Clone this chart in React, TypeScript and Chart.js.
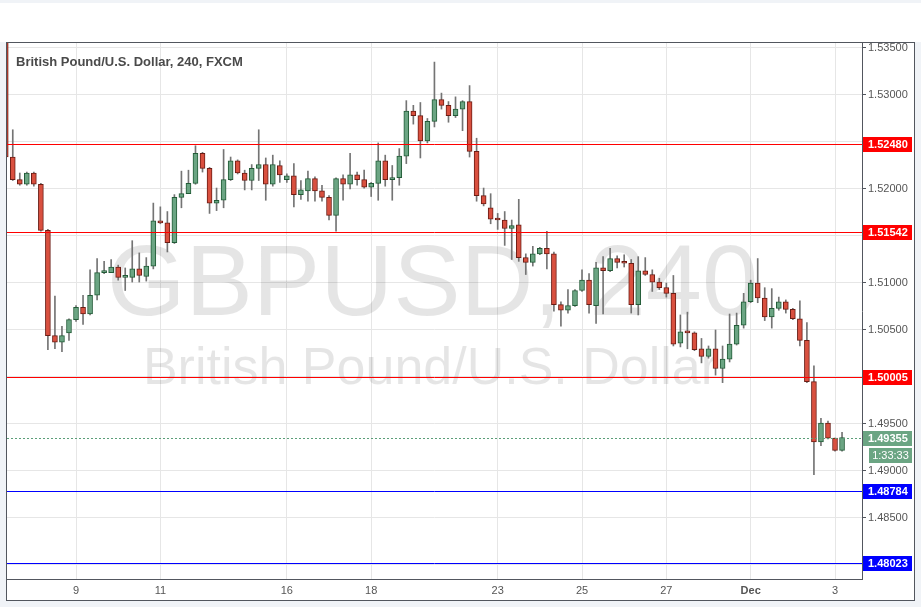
import React, { useEffect, useRef } from "react";
import { Chart, registerables } from "chart.js";

Chart.register(...registerables);

// ---- data (4h candles, GBP/USD, FXCM) ----
const candleOpen = [
  1.5370, 1.5234, 1.5210, 1.5205, 1.5217, 1.5205, 1.5156, 1.5044, 1.5037, 1.5047,
  1.5061, 1.5074, 1.5067, 1.5087, 1.5111, 1.5111, 1.5117, 1.5106, 1.5106, 1.5115,
  1.5107, 1.5118, 1.5166, 1.5164, 1.5143, 1.5191, 1.5195, 1.5206, 1.5238, 1.5222,
  1.5185, 1.5188, 1.5210, 1.5230, 1.5217, 1.5209, 1.5222, 1.5226, 1.5205, 1.5225,
  1.5210, 1.5214, 1.5194, 1.5198, 1.5211, 1.5198, 1.5191, 1.5172, 1.5211, 1.5205,
  1.5215, 1.5210, 1.5202, 1.5206, 1.5230, 1.5210, 1.5212, 1.5235, 1.5283, 1.5278,
  1.5251, 1.5272, 1.5295, 1.5289, 1.5278, 1.5285, 1.5293, 1.5240, 1.5193, 1.5180,
  1.5168, 1.5167, 1.5158, 1.5162, 1.5127, 1.5122, 1.5131, 1.5137, 1.5131, 1.5077,
  1.5071, 1.5076, 1.5092, 1.5103, 1.5076, 1.5116, 1.5113, 1.5126, 1.5122, 1.5121,
  1.5077, 1.5113, 1.5109, 1.5101, 1.5095, 1.5089, 1.5036, 1.5049, 1.5047, 1.5030,
  1.5022, 1.5030, 1.5009, 1.5019, 1.5035, 1.5055, 1.5080, 1.5100, 1.5084, 1.5064,
  1.5073, 1.5080, 1.5072, 1.5062, 1.5039, 1.4995, 1.4931, 1.4951, 1.4935, 1.4922,
];
const candleHigh = [
  1.5378, 1.5263, 1.5217, 1.5218, 1.5218, 1.5206, 1.5157, 1.5086, 1.5054, 1.5062,
  1.5076, 1.5087, 1.5114, 1.5126, 1.5123, 1.5125, 1.5119, 1.5116, 1.5145, 1.5132,
  1.5127, 1.5185, 1.5181, 1.5176, 1.5194, 1.5219, 1.5220, 1.5246, 1.5239, 1.5223,
  1.5201, 1.5242, 1.5234, 1.5231, 1.5220, 1.5226, 1.5263, 1.5233, 1.5236, 1.5230,
  1.5216, 1.5227, 1.5209, 1.5219, 1.5213, 1.5204, 1.5193, 1.5212, 1.5215, 1.5238,
  1.5218, 1.5220, 1.5207, 1.5249, 1.5236, 1.5225, 1.5243, 1.5294, 1.5289, 1.5292,
  1.5275, 1.5335, 1.5302, 1.5293, 1.5298, 1.5294, 1.5310, 1.5254, 1.5201, 1.5195,
  1.5174, 1.5176, 1.5167, 1.5189, 1.5131, 1.5139, 1.5138, 1.5155, 1.5133, 1.5080,
  1.5093, 1.5093, 1.5114, 1.5110, 1.5122, 1.5128, 1.5137, 1.5129, 1.5130, 1.5125,
  1.5128, 1.5127, 1.5114, 1.5105, 1.5100, 1.5108, 1.5066, 1.5069, 1.5048, 1.5041,
  1.5033, 1.5050, 1.5033, 1.5067, 1.5068, 1.5089, 1.5103, 1.5126, 1.5095, 1.5094,
  1.5085, 1.5082, 1.5073, 1.5081, 1.5058, 1.5012, 1.4956, 1.4953, 1.4935, 1.4941,
];
const candleLow = [
  1.5228, 1.5209, 1.5204, 1.5204, 1.5203, 1.5155, 1.5029, 1.5030, 1.5027, 1.5039,
  1.5059, 1.5056, 1.5066, 1.5082, 1.5110, 1.5111, 1.5103, 1.5092, 1.5101, 1.5101,
  1.5102, 1.5115, 1.5163, 1.5133, 1.5142, 1.5180, 1.5195, 1.5205, 1.5218, 1.5174,
  1.5177, 1.5180, 1.5209, 1.5216, 1.5199, 1.5199, 1.5209, 1.5188, 1.5203, 1.5207,
  1.5207, 1.5181, 1.5189, 1.5187, 1.5187, 1.5187, 1.5167, 1.5155, 1.5188, 1.5200,
  1.5204, 1.5201, 1.5192, 1.5188, 1.5203, 1.5188, 1.5204, 1.5227, 1.5269, 1.5233,
  1.5249, 1.5266, 1.5285, 1.5271, 1.5276, 1.5262, 1.5234, 1.5187, 1.5182, 1.5163,
  1.5157, 1.5140, 1.5125, 1.5123, 1.5109, 1.5118, 1.5130, 1.5115, 1.5070, 1.5054,
  1.5068, 1.5075, 1.5091, 1.5068, 1.5057, 1.5067, 1.5112, 1.5116, 1.5117, 1.5068,
  1.5066, 1.5108, 1.5091, 1.5093, 1.5085, 1.5033, 1.5032, 1.5030, 1.5028, 1.5015,
  1.5020, 1.5002, 1.4994, 1.5016, 1.5034, 1.5052, 1.5079, 1.5079, 1.5060, 1.5052,
  1.5071, 1.5068, 1.5061, 1.5033, 1.4994, 1.4896, 1.4927, 1.4934, 1.4921, 1.4921,
];
const candleClose = [
  1.5234, 1.5210, 1.5205, 1.5217, 1.5205, 1.5156, 1.5044, 1.5037, 1.5044, 1.5061,
  1.5074, 1.5067, 1.5087, 1.5111, 1.5112, 1.5117, 1.5106, 1.5107, 1.5115, 1.5108,
  1.5118, 1.5166, 1.5164, 1.5143, 1.5191, 1.5195, 1.5206, 1.5238, 1.5222, 1.5185,
  1.5188, 1.5210, 1.5230, 1.5217, 1.5209, 1.5222, 1.5226, 1.5205, 1.5226, 1.5215,
  1.5214, 1.5194, 1.5199, 1.5211, 1.5198, 1.5191, 1.5172, 1.5211, 1.5205, 1.5215,
  1.5210, 1.5202, 1.5206, 1.5230, 1.5210, 1.5212, 1.5235, 1.5283, 1.5278, 1.5251,
  1.5272, 1.5295, 1.5289, 1.5278, 1.5285, 1.5293, 1.5240, 1.5193, 1.5184, 1.5168,
  1.5167, 1.5158, 1.5161, 1.5127, 1.5122, 1.5131, 1.5137, 1.5131, 1.5077, 1.5071,
  1.5076, 1.5092, 1.5103, 1.5077, 1.5116, 1.5113, 1.5126, 1.5122, 1.5121, 1.5077,
  1.5113, 1.5109, 1.5101, 1.5095, 1.5089, 1.5035, 1.5048, 1.5047, 1.5029, 1.5022,
  1.5030, 1.5009, 1.5019, 1.5035, 1.5055, 1.5080, 1.5100, 1.5084, 1.5064, 1.5073,
  1.5080, 1.5072, 1.5062, 1.5039, 1.4995, 1.4931, 1.4951, 1.4935, 1.4922, 1.49355,
];

const xTickIndex = [10, 22, 40, 52, 70, 82, 94, 106, 118];
const xTickLabels = ["9", "11", "16", "18", "23", "25", "27", "Dec", "3"];
const yTickValues = [1.48, 1.485, 1.49, 1.495, 1.5, 1.505, 1.51, 1.515, 1.52, 1.525, 1.53, 1.535];

const levelValues = [1.5248, 1.51542, 1.50005, 1.48784, 1.48023];
const levelColors = ["#ff0000", "#ff0000", "#ff0000", "#0000ff", "#0000ff"];
const lastPrice = 1.49355;
const countdownText = "1:33:33";
const titleText = "British Pound/U.S. Dollar, 240, FXCM";
const watermarkMain = "GBPUSD, 240";
const watermarkSub = "British Pound/U.S. Dollar";

const FONT = "'Liberation Sans', Arial, sans-serif";
const UP_FILL = "#6ba583";
const UP_EDGE = "#225b37";
const DOWN_FILL = "#d9503f";
const DOWN_EDGE = "#6b1c14";
const GREEN_TAG = "#6ba583";

const decorPlugin = {
  id: "decor",
  beforeDraw(chart: any) {
    const { ctx, width, height } = chart;
    ctx.save();
    ctx.fillStyle = "#f0f3f7";
    ctx.fillRect(0, 0, width, height);
    ctx.fillStyle = "#ffffff";
    ctx.fillRect(0, 3, width, 39);
    ctx.fillRect(6, 42, 909, 559);
    ctx.strokeStyle = "#52565e";
    ctx.lineWidth = 1;
    ctx.strokeRect(6.5, 42.5, 908, 558);
    ctx.restore();
  },
  beforeDatasetsDraw(chart: any) {
    const { ctx, chartArea: a } = chart;
    ctx.save();
    ctx.beginPath();
    ctx.rect(a.left, a.top, a.right - a.left, a.bottom - a.top);
    ctx.clip();
    ctx.fillStyle = "rgba(0,0,0,0.1)";
    ctx.textAlign = "center";
    ctx.textBaseline = "alphabetic";
    const cx = (a.left + a.right) / 2;
    ctx.font = `101px ${FONT}`;
    ctx.fillText(watermarkMain, cx - 2, a.top + 272);
    ctx.font = `52px ${FONT}`;
    ctx.fillText(watermarkSub, cx - 4, a.top + 341);
    ctx.restore();
  },
  afterDatasetsDraw(chart: any) {
    const { ctx, chartArea: a, scales } = chart;
    const ys = scales.y;
    ctx.save();
    ctx.beginPath();
    ctx.rect(a.left, a.top, a.right - a.left, a.bottom - a.top);
    ctx.clip();
    ctx.lineWidth = 1;
    levelValues.forEach((v, i) => {
      const y = Math.round(ys.getPixelForValue(v)) + 0.5;
      ctx.strokeStyle = levelColors[i];
      ctx.beginPath();
      ctx.moveTo(a.left, y);
      ctx.lineTo(a.right, y);
      ctx.stroke();
    });
    const yl = Math.round(ys.getPixelForValue(lastPrice)) + 0.5;
    ctx.strokeStyle = "#5b9e78";
    ctx.setLineDash([2, 2]);
    ctx.beginPath();
    ctx.moveTo(a.left, yl);
    ctx.lineTo(a.right, yl);
    ctx.stroke();
    ctx.restore();
  },
  afterDraw(chart: any) {
    const { ctx, chartArea: a, scales } = chart;
    const ys = scales.y;
    ctx.save();
    const tag = (v: number, color: string) => {
      const y = Math.round(ys.getPixelForValue(v));
      ctx.fillStyle = color;
      ctx.fillRect(a.right + 1, y - 7, 49, 15);
      ctx.fillStyle = "#ffffff";
      ctx.font = `bold 11px ${FONT}`;
      ctx.textAlign = "left";
      ctx.textBaseline = "middle";
      ctx.fillText(v.toFixed(5), a.right + 6, y + 1);
    };
    levelValues.forEach((v, i) => tag(v, levelColors[i]));
    tag(lastPrice, GREEN_TAG);
    const yl = Math.round(ys.getPixelForValue(lastPrice));
    ctx.fillStyle = GREEN_TAG;
    ctx.fillRect(a.right + 7, yl + 10, 43, 15);
    ctx.fillStyle = "#ffffff";
    ctx.font = `11px ${FONT}`;
    ctx.textAlign = "center";
    ctx.textBaseline = "middle";
    ctx.fillText(countdownText, a.right + 28.5, yl + 18);
    // title
    ctx.fillStyle = "#4a4a4a";
    ctx.font = `bold 13px ${FONT}`;
    ctx.textAlign = "left";
    ctx.textBaseline = "alphabetic";
    ctx.fillText(titleText, a.left + 9, a.top + 23);
    ctx.restore();
  },
};

export default function App() {
  const ref = useRef<HTMLCanvasElement>(null);
  useEffect(() => {
    document.body.style.margin = "0";
    const bodyData = candleOpen.map((o, i) => ({ x: i, y: [o, candleClose[i]] }));
    const wickData = candleOpen.map((_, i) => ({ x: i, y: [candleLow[i], candleHigh[i]] }));
    const isUp = candleOpen.map((o, i) => candleClose[i] >= o);
    const chart = new Chart(ref.current as HTMLCanvasElement, {
      type: "bar",
      data: {
        datasets: [
          {
            data: wickData as any,
            backgroundColor: "#747474",
            borderWidth: 0,
            barThickness: 1,
            grouped: false,
            order: 2,
            clip: 0,
            minBarLength: 1,
          } as any,
          {
            data: bodyData as any,
            backgroundColor: isUp.map((u) => (u ? UP_FILL : DOWN_FILL)),
            borderColor: isUp.map((u) => (u ? UP_EDGE : DOWN_EDGE)),
            borderWidth: 1,
            borderSkipped: false,
            barThickness: 5,
            grouped: false,
            order: 1,
            clip: 0,
            minBarLength: 2,
          } as any,
        ],
      },
      options: {
        responsive: false,
        animation: false,
        devicePixelRatio: 1,
        events: [],
        layout: { padding: { left: 7, top: 43, right: 7, bottom: 7 }, autoPadding: false } as any,
        plugins: {
          legend: { display: false },
          tooltip: { enabled: false },
          title: { display: false },
        },
        scales: {
          x: {
            type: "linear",
            min: 0.18,
            max: 121.84,
            offset: false,
            afterBuildTicks: (s: any) => {
              s.ticks = xTickIndex.map((v) => ({ value: v }));
            },
            afterFit: (s: any) => {
              s.height = 21;
            },
            grid: { color: "#e6e6e6", drawTicks: false, offset: false },
            border: { color: "#52565e", width: 1 },
            ticks: {
              autoSkip: false,
              maxRotation: 0,
              padding: 5,
              color: "#555555",
              font: (c: any) => {
                const idx = c.tick ? xTickIndex.indexOf(c.tick.value) : -1;
                return { family: FONT, size: 11, weight: idx >= 0 && xTickLabels[idx] === "Dec" ? "bold" : "normal" };
              },
              callback: (v: any) => {
                const idx = xTickIndex.indexOf(Number(v));
                return idx >= 0 ? xTickLabels[idx] : "";
              },
            },
          } as any,
          y: {
            type: "linear",
            position: "right",
            min: 1.47851,
            max: 1.53553,
            afterBuildTicks: (s: any) => {
              s.ticks = yTickValues.map((v) => ({ value: v }));
            },
            afterFit: (s: any) => {
              s.width = 52;
            },
            grid: { color: "#e6e6e6", tickLength: 4, tickColor: "#52565e" },
            border: { color: "#52565e", width: 1 },
            ticks: {
              padding: 2,
              color: "#555555",
              font: { family: FONT, size: 11 },
              callback: (v: any) => {
                const n = Number(v);
                if (levelValues.some((l) => Math.abs(l - n) < 0.001)) return "";
                return n.toFixed(5);
              },
            },
          } as any,
        },
      },
      plugins: [decorPlugin],
    });
    return () => chart.destroy();
  }, []);
  return (
    <div style={{ position: "absolute", left: 0, top: 0, width: 921, height: 607, background: "#f0f3f7" }}>
      <canvas ref={ref} width={921} height={607} style={{ display: "block", width: 921, height: 607 }} />
    </div>
  );
}
